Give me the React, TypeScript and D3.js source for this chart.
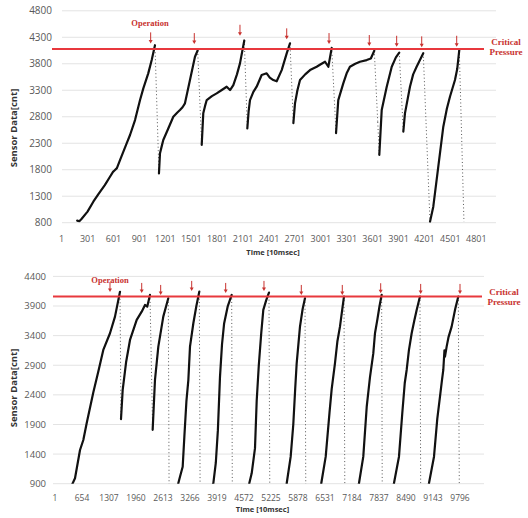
import * as d3 from 'd3'

type Pt = [number, number]

// ---- upper run: time [10 ms] vs sensor count ----
const upperTicksX = [1, 301, 601, 901, 1201, 1501, 1801, 2101, 2401, 2701, 3001, 3301, 3601, 3901, 4201, 4501, 4801]
const upperTicksY = [800, 1300, 1800, 2300, 2800, 3300, 3800, 4300, 4800]
const upperCritical = 4080
const upperOps = [1031, 1536, 2065, 2606, 3096, 3562, 3879, 4169, 4574]
const upperOpTips = [4185, 4172, 4329, 4261, 4172, 4135, 4121, 4110, 4121]
const upperSeries: Pt[] = [
  [180, 840], [205, 828], [230, 870], [300, 1010], [367, 1196], [430, 1350], [500, 1510],
  [560, 1668], [595, 1760], [615, 1790], [640, 1830], [676, 1983], [753, 2298], [792, 2455],
  [850, 2738], [908, 3115], [946, 3336], [1003, 3619], [1043, 3870], [1081, 4150],
  [1127, 1730], [1139, 2110], [1160, 2250], [1177, 2360], [1230, 2560], [1293, 2800],
  [1340, 2880], [1370, 2927], [1400, 2980], [1428, 3053], [1486, 3493], [1544, 3933], [1575, 4050],
  [1622, 2270], [1640, 2864], [1660, 3000], [1680, 3115], [1740, 3190], [1795, 3241],
  [1850, 3300], [1911, 3367], [1950, 3304], [1988, 3398], [2030, 3600], [2065, 3808], [2115, 4240],
  [2150, 2580], [2165, 2900], [2181, 3115], [2220, 3270], [2258, 3367], [2316, 3587],
  [2374, 3620], [2410, 3540], [2451, 3493], [2490, 3470], [2548, 3681], [2606, 3996], [2644, 4185],
  [2683, 2680], [2702, 3053], [2730, 3300], [2760, 3493], [2820, 3600], [2876, 3681],
  [2953, 3744], [3000, 3790], [3050, 3838], [3088, 3744], [3127, 4100],
  [3177, 2490], [3203, 3115], [3261, 3430], [3300, 3620], [3338, 3744], [3400, 3800],
  [3454, 3838], [3532, 3870], [3580, 3900], [3620, 4046],
  [3660, 2700], [3678, 2080], [3706, 2927], [3764, 3367], [3822, 3744], [3870, 3920], [3909, 4010],
  [3956, 2520], [3975, 2864], [4033, 3367], [4070, 3600], [4110, 3744], [4187, 4000],
  [4265, 820], [4303, 1102], [4361, 1857], [4419, 2612], [4460, 2950], [4496, 3178],
  [4554, 3493], [4580, 3700], [4604, 4060],
  [4658, 820],
]

// ---- lower run ----
const lowerTicksX = [1, 654, 1307, 1960, 2613, 3266, 3919, 4572, 5225, 5878, 6531, 7184, 7837, 8490, 9143, 9796]
const lowerTicksY = [900, 1400, 1900, 2400, 2900, 3400, 3900, 4400]
const lowerCritical = 4060
const lowerOps = [1331, 2098, 2557, 3307, 4129, 5055, 5958, 6949, 7878, 8845, 9796]
const lowerOpTips = [4138, 4121, 4087, 4155, 4121, 4155, 4087, 4087, 4116, 4104, 4104]
const lowerSeries: Pt[] = [
  [400, 860], [429, 907], [485, 991], [606, 1469], [686, 1638], [767, 1920], [927, 2440],
  [1050, 2800], [1169, 3158], [1331, 3440], [1452, 3721], [1573, 4140],
  [1597, 1990], [1638, 2483], [1720, 2950], [1815, 3327], [1977, 3665], [2098, 3805],
  [2178, 3918], [2233, 3890], [2298, 4087],
  [2363, 1810], [2419, 2651], [2500, 3214], [2620, 3721], [2741, 4031],
  [2760, 850], [2960, 860], [2983, 907], [3024, 1018], [3089, 1187], [3130, 1700],
  [3180, 2300], [3226, 2650], [3266, 3214], [3347, 3609], [3420, 3900], [3491, 4143],
  [3510, 850], [3800, 860], [3830, 907], [3890, 1250], [3940, 1800], [3991, 2700],
  [4040, 3250], [4090, 3600], [4180, 3900], [4274, 4087],
  [4289, 850], [4680, 860], [4700, 907], [4758, 1075], [4838, 1500], [4879, 2300],
  [4930, 2900], [4990, 3450], [5039, 3834], [5110, 4000], [5176, 4126],
  [5195, 850], [5590, 860], [5605, 907], [5701, 1356], [5764, 1900], [5810, 2500],
  [5846, 2933], [5926, 3552], [5990, 3850], [6047, 4031],
  [6066, 850], [6420, 860], [6441, 907], [6548, 1356], [6640, 2100], [6693, 2500],
  [6772, 2933], [6830, 3300], [6893, 3552], [6950, 3850], [6990, 4059],
  [7010, 850], [7330, 860], [7353, 907], [7457, 1356], [7540, 2200], [7619, 2700],
  [7699, 3100], [7740, 3440], [7796, 3665], [7850, 3900], [7901, 4087],
  [7915, 850], [8180, 860], [8199, 907], [8320, 1356], [8400, 2089], [8460, 2600],
  [8506, 2820], [8560, 3150], [8627, 3440], [8690, 3650], [8748, 3834], [8828, 4059],
  [8845, 850], [9030, 860], [9046, 907], [9167, 1356], [9247, 2000], [9312, 2370],
  [9360, 2650], [9392, 2820], [9420, 3150], [9433, 3045], [9473, 3214], [9520, 3380],
  [9594, 3552], [9680, 3850], [9755, 4059],
  [9779, 850],
]

const RED = '#e8383d'
const NOTE_RED = '#c8322f'
const SERIF = '"Liberation Serif", "DejaVu Serif", serif'
const SANS = '"Open Sans", "Noto Sans", sans-serif'

interface PanelProps {
  id: string
  series: Pt[]
  ticksX: number[]
  ticksY: number[]
  critical: number
  ops: number[]
  opTips: number[]
  xPix: [number, number]      // pixel positions of first / last x tick
  yPix: [number, number]      // pixel positions of min / max y tick
  plotX: [number, number]     // grid extent
  redX: [number, number]
  yLabelRight: number
  yFont: number
  xFont: number
  xLabelY: number
  titleY: number
  yTitleY: number
  opLabel: [number, number]
  critLabel: [number, number]
  arrowLen: number
}

function Panel(p: PanelProps) {
  const x = d3.scaleLinear().domain([p.ticksX[0], p.ticksX[p.ticksX.length - 1]]).range(p.xPix)
  const y = d3.scaleLinear().domain([p.ticksY[0], p.ticksY[p.ticksY.length - 1]]).range(p.yPix)
  const line = d3.line<Pt>().x(d => x(d[0])).y(d => y(d[1]))

  // rising stretches are drawn solid, sudden pressure releases dotted
  const runs: Pt[][] = []
  const drops: [Pt, Pt][] = []
  let cur: Pt[] = [p.series[0]]
  for (let i = 1; i < p.series.length; i++) {
    const a = p.series[i - 1]
    const b = p.series[i]
    if (b[1] < a[1] - 400) {
      drops.push([a, b])
      if (cur.length > 1) runs.push(cur)
      cur = [b]
    } else {
      cur.push(b)
    }
  }
  if (cur.length > 1) runs.push(cur)

  const yBottom = p.yPix[0]
  const yTop = p.yPix[1]

  return (
    <g>
      <defs>
        <clipPath id={`clip-${p.id}`}>
          <rect x={p.plotX[0]} y={yTop - 20} width={p.plotX[1] - p.plotX[0]} height={yBottom - yTop + 20} />
        </clipPath>
      </defs>
      {p.ticksY.map(t => (
        <g key={t}>
          <line x1={p.plotX[0]} x2={p.plotX[1]} y1={y(t)} y2={y(t)} stroke="#e3e3e3" strokeWidth={1} />
          <text x={p.yLabelRight} y={y(t) + p.yFont * 0.36} textAnchor="end" fontSize={p.yFont}
            fill="#595959" fontFamily={SANS}>{t}</text>
        </g>
      ))}
      {p.ticksX.map(t => (
        <text key={t} x={x(t)} y={p.xLabelY} textAnchor="middle" fontSize={p.xFont}
          fill="#595959" fontFamily={SANS}>{t}</text>
      ))}
      <text x={(p.plotX[0] + p.plotX[1]) / 2 - 6} y={p.titleY} textAnchor="middle" fontSize={7.5}
        fontWeight="bold" fill="#333" fontFamily={SANS}>Time [10msec]</text>
      <text transform={`translate(17,${p.yTitleY}) rotate(-90)`} textAnchor="middle" fontSize={9.5}
        fontWeight="bold" fill="#333" fontFamily={SANS}>Sensor Data[cnt]</text>

      <g clipPath={`url(#clip-${p.id})`}>
        {drops.map(([a, b], i) => (
          <line key={i} x1={x(a[0])} y1={y(a[1])} x2={x(b[0])} y2={y(b[1])}
            stroke="#555" strokeWidth={1} strokeDasharray="1 2.5" />
        ))}
        {runs.map((r, i) => (
          <path key={i} d={line(r) ?? ''} fill="none" stroke="#111" strokeWidth={2.2}
            strokeLinejoin="round" strokeLinecap="round" />
        ))}
      </g>

      <line x1={p.redX[0]} x2={p.redX[1]} y1={y(p.critical)} y2={y(p.critical)} stroke={RED} strokeWidth={2} />

      {p.ops.map((t, i) => {
        const tip = y(p.opTips[i])
        const cx = x(t)
        return (
          <g key={t}>
            <line x1={cx} x2={cx} y1={tip - p.arrowLen} y2={tip - 2} stroke={NOTE_RED} strokeWidth={1} />
            <path d={`M${cx - 2},${tip - 3.5}L${cx + 2},${tip - 3.5}L${cx},${tip}Z`} fill={NOTE_RED} />
          </g>
        )
      })}

      <text x={p.opLabel[0]} y={p.opLabel[1]} textAnchor="middle" fontSize={8.5} fontWeight="bold"
        fill={NOTE_RED} fontFamily={SERIF}>Operation</text>
      <text x={p.critLabel[0]} y={p.critLabel[1]} textAnchor="middle" fontSize={9} fontWeight="bold"
        fill={NOTE_RED} fontFamily={SERIF}>
        <tspan x={p.critLabel[0]} dy={0}>Critical</tspan>
        <tspan x={p.critLabel[0]} dy={10}>Pressure</tspan>
      </text>
    </g>
  )
}

export default function App() {
  return (
    <svg width={528} height={518} style={{ position: 'absolute', left: 0, top: 0, background: '#fff' }}>
      <Panel
        id="upper"
        series={upperSeries}
        ticksX={upperTicksX}
        ticksY={upperTicksY}
        critical={upperCritical}
        ops={upperOps}
        opTips={upperOpTips}
        xPix={[61.7, 476.3]}
        yPix={[222.7, 10.8]}
        plotX={[62, 496]}
        redX={[52, 484]}
        yLabelRight={52}
        yFont={10}
        xFont={9}
        xLabelY={241.5}
        titleY={255}
        yTitleY={128}
        opLabel={[150, 26]}
        critLabel={[506, 45]}
        arrowLen={11}
      />
      <Panel
        id="lower"
        series={lowerSeries}
        ticksX={lowerTicksX}
        ticksY={lowerTicksY}
        critical={lowerCritical}
        ops={lowerOps}
        opTips={lowerOpTips}
        xPix={[55, 460]}
        yPix={[483.7, 276.4]}
        plotX={[53, 484]}
        redX={[53, 482]}
        yLabelRight={46}
        yFont={9.5}
        xFont={8.5}
        xLabelY={501}
        titleY={512}
        yTitleY={388}
        opLabel={[110, 283]}
        critLabel={[504, 295]}
        arrowLen={10}
      />
    </svg>
  )
}
